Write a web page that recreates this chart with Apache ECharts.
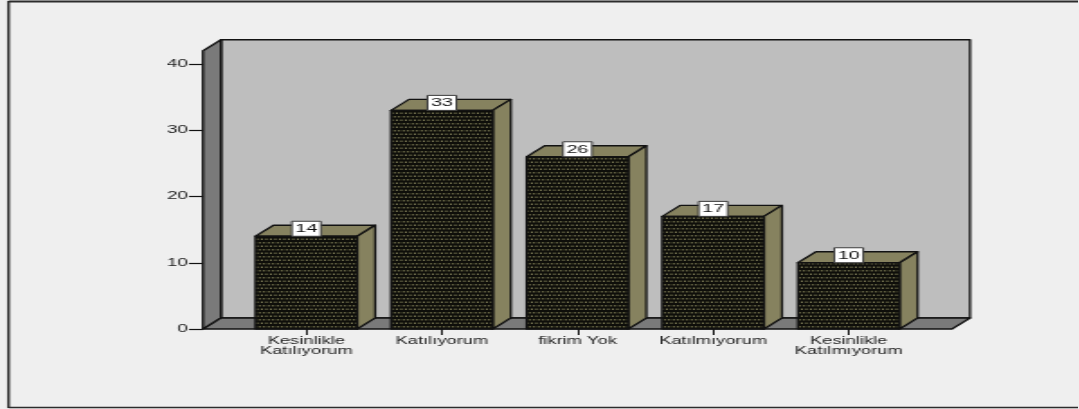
<!DOCTYPE html>
<html>
<head>
<meta charset="utf-8">
<style>
html,body{margin:0;padding:0;background:#efefef;overflow:hidden}
#stage{position:absolute;left:0;top:0;height:409px;transform-origin:0 0}
</style>
<script src="https://cdn.jsdelivr.net/npm/echarts@6/dist/echarts.min.js"></script>
</head>
<body>
<div id="stage"></div>
<script>
const categories = ['Kesinlikle\nKatılıyorum', 'Katılıyorum', 'fikrim Yok', 'Katılmıyorum', 'Kesinlikle\nKatılmıyorum'];
const counts = [14, 33, 26, 17, 10];
const yTicks = [0, 10, 20, 30, 40];

// The whole plot is drawn narrow and widened by this factor, so the lettering widens with the marks.
const WIDEN = 1.8;
const W = 1079, H = 409;
const px = v => v / WIDEN;

const stage = document.getElementById('stage');
stage.style.width = (W / WIDEN) + 'px';
stage.style.transform = 'scaleX(' + WIDEN + ')';

const INK = '#121212', BG = '#efefef', WALL = '#bebebe', SIDE = '#7a7a7a', OLIVE = '#86825f';
const DEPTH_X = px(18), DEPTH_Y = 11, FLOOR_RUN = px(35.5);

// Stippled fill for the front face of each bar: staggered rows of olive dots on near-black.
function stipple() {
  const c = document.createElement('canvas');
  c.width = 5; c.height = 7;
  const g = c.getContext('2d');
  g.fillStyle = '#0e0e0a';
  g.fillRect(0, 0, 5, 7);
  g.fillStyle = '#84825a';
  [[0, 0.5], [2.5, 0.5], [1.25, 4], [3.75, 4]].forEach(d => g.fillRect(d[0], d[1], 1, 1.5));
  return c;
}
const stippleFill = { image: stipple(), repeat: 'repeat' };

const chart = echarts.init(stage, null, { renderer: 'canvas', width: W / WIDEN, height: H });

function poly(points, fill, z2) {
  return { type: 'polygon', z2: z2 || 0, shape: { points },
    style: { fill, stroke: INK, lineWidth: 1.3, lineJoin: 'round' } };
}

function renderRoom(params, api) {
  const cs = params.coordSys;
  const l = cs.x - FLOOR_RUN, r = cs.x + cs.width + FLOOR_RUN;
  const t = cs.y, b = cs.y + cs.height;
  const dx = DEPTH_X, dy = DEPTH_Y;
  return { type: 'group', children: [
    poly([[l + dx, t - dy], [r + dx, t - dy], [r + dx, b - dy], [l + dx, b - dy]], WALL),
    poly([[l, t], [l + dx, t - dy], [l + dx, b - dy], [l, b]], SIDE),
    poly([[l, b], [l + dx, b - dy], [r + dx, b - dy], [r, b]], SIDE)
  ] };
}

function renderBar(params, api) {
  const c = api.coord([api.value(0), api.value(1)]);
  const base = api.coord([api.value(0), 0]);
  const half = api.size([1, 0])[0] * 0.375;
  const l = c[0] - half, r = c[0] + half, t = c[1], b = base[1];
  const dx = DEPTH_X, dy = DEPTH_Y;
  const boxW = px(29), boxH = 15;
  return { type: 'group', children: [
    poly([[l, t], [l + dx, t - dy], [r + dx, t - dy], [r, t]], OLIVE),
    poly([[r, t], [r + dx, t - dy], [r + dx, b - dy], [r, b]], OLIVE),
    poly([[l, t], [r, t], [r, b], [l, b]], stippleFill),
    { type: 'rect', z2: 5,
      shape: { x: c[0] - boxW / 2, y: t - boxH, width: boxW, height: boxH },
      style: { fill: '#ffffff', stroke: '#3c3c3c', lineWidth: 1 } },
    { type: 'text', z2: 6,
      style: { text: String(api.value(1)), x: c[0], y: t - boxH / 2 + 0.5,
        align: 'center', verticalAlign: 'middle',
        font: '11px "Liberation Sans", Arial, sans-serif', fill: '#111111' } }
  ] };
}

chart.setOption({
  animation: false,
  backgroundColor: BG,
  grid: { left: px(238.5), width: px(678), top: 50.75, height: 278.25 },
  graphic: [
    // Frame round the plot area: heavy on the top, left and bottom sides.
    { type: 'line', shape: { x1: px(8.5), y1: 1.5, x2: W / WIDEN, y2: 1.5 }, style: { stroke: '#2c2c2c', lineWidth: 2 } },
    { type: 'line', shape: { x1: px(8.5), y1: 1, x2: px(8.5), y2: 408 }, style: { stroke: '#2c2c2c', lineWidth: 1.5 } },
    { type: 'line', shape: { x1: px(8.5), y1: 407.5, x2: W / WIDEN, y2: 407.5 }, style: { stroke: '#2c2c2c', lineWidth: 1.5 } }
  ],
  xAxis: {
    type: 'category', data: categories,
    axisLine: { show: false },
    axisTick: { show: true, alignWithLabel: true, length: 6, lineStyle: { color: INK, width: 1 } },
    axisLabel: { interval: 0, margin: 7, color: '#222222', lineHeight: 10,
      fontFamily: '"Liberation Sans", Arial, sans-serif', fontSize: 10.2 },
    splitLine: { show: false }
  },
  yAxis: {
    type: 'value', min: 0, max: 42, offset: px(35.5),
    axisLine: { show: false },
    axisTick: { show: true, length: px(14), customValues: yTicks, lineStyle: { color: INK, width: 1.2 } },
    axisLabel: { margin: px(15), customValues: yTicks, color: '#222222',
      fontFamily: '"Liberation Sans", Arial, sans-serif', fontSize: 10.5 },
    splitLine: { show: false }
  },
  series: [
    { type: 'custom', z: 1, silent: true, clip: false, renderItem: renderRoom, data: [[0, 0]] },
    { type: 'custom', z: 2, silent: true, clip: false, renderItem: renderBar,
      encode: { x: 0, y: 1 }, data: counts.map((v, i) => [i, v]) }
  ]
});
</script>
</body>
</html>
